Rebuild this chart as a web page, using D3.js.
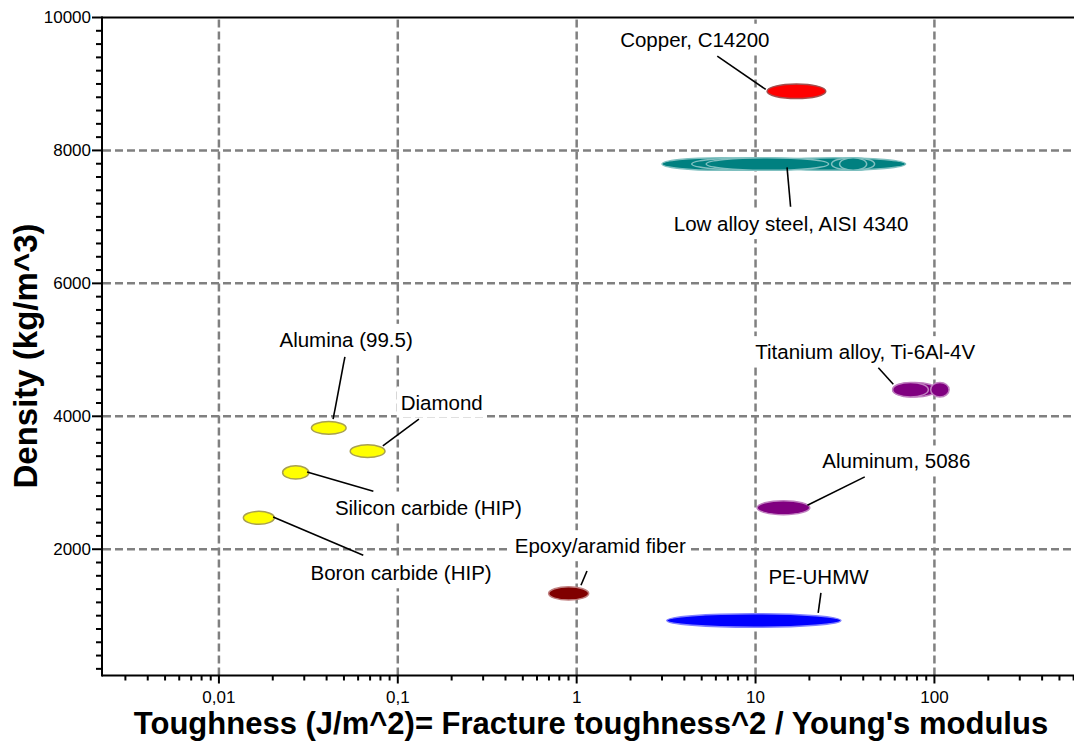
<!DOCTYPE html>
<html>
<head>
<meta charset="utf-8">
<script src="https://cdn.jsdelivr.net/npm/d3@7"></script>
<style>
  body { margin: 0; background: #fff; }
  svg text { font-family: "Liberation Sans", Arial, sans-serif; }
</style>
</head>
<body>
<svg id="chart" width="1074" height="742"></svg>
<script>
// material records (one ellipse each): toughness range (J/m^2) and density range (kg/m^3)
const recGroup  = ["copper", "steel", "steel", "steel", "steel", "steel", "steel",
                   "titanium", "titanium", "titanium", "aluminum",
                   "ceramic", "ceramic", "ceramic", "ceramic", "epoxy", "pe"];
const toughMin  = [11.6, 10.8, 3.0, 4.4, 5.3, 26.6, 29.5,
                   58.4, 58.4, 95.3, 10.2,
                   0.0329, 0.0542, 0.0227, 0.0137, 0.697, 3.19];
const toughMax  = [24.7, 69.0, 13.6, 21.9, 25.6, 46.3, 41.8,
                   103, 92.5, 120.8, 20.1,
                   0.0514, 0.0848, 0.0318, 0.0204, 1.167, 30.0];
const densMin   = [8780, 7700, 7700, 7700, 7700, 7700, 7700,
                   4290, 4290, 4290, 2520,
                   3730, 3380, 3055, 2375, 1235, 825];
const densMax   = [9000, 7890, 7890, 7890, 7890, 7890, 7890,
                   4510, 4510, 4510, 2730,
                   3920, 3570, 3255, 2570, 1435, 1030];

// fill / outline per group
const groups      = ["copper", "steel", "titanium", "aluminum", "ceramic", "epoxy", "pe"];
const fillColors  = ["#ff0000", "#008080", "#800080", "#800080", "#ffff00", "#800000", "#0000ff"];
const edgeColors  = ["#a05050", "#80c0c0", "#c080c0", "#c080c0", "#a8a050", "#c08080", "#8080ff"];

// labels: text, anchor (toughness, density) and leader line ends
const labelText = ["Copper, C14200", "Low alloy steel, AISI 4340", "Titanium alloy, Ti-6Al-4V",
                   "Aluminum, 5086", "Alumina (99.5)", "Diamond", "Silicon carbide (HIP)",
                   "Boron carbide (HIP)", "Epoxy/aramid fiber", "PE-UHMW"];
const labelAt   = [[1.75, 9560], [3.49, 6786], [9.97, 4860], [23.6, 3215], [0.0218, 5045],
                   [0.1038, 4102], [0.0445, 2522], [0.0325, 1533], [0.451, 1940], [11.8, 1484]];
const leadFrom  = [[6.11, 9420], [15.0, 7745], [48.6, 4729], [40.8, 3088], [0.0506, 4894],
                   [0.1312, 3957], [0.0311, 3163], [0.0201, 2486], [1.142, 1673], [23.2, 1342]];
const leadTo    = [[11.4, 8918], [15.7, 7152], [58.9, 4483], [19.5, 2662], [0.0435, 3957],
                   [0.0825, 3555], [0.0730, 2873], [0.0641, 1910], [1.057, 1458], [22.4, 1041]];

// axes
const xMajor      = [0.01, 0.1, 1, 10, 100];
const xMajorText  = ["0,01", "0,1", "1", "10", "100"];
const yMajor      = [2000, 4000, 6000, 8000, 10000];
const xDomain     = [0.00222, 603];
const yDomain     = [100, 10000];

const svg = d3.select("#chart");
const W = 1074, mLeft = 102, mTop = 17.5, mBottom = 675.5;

const x = d3.scaleLog().domain(xDomain).range([mLeft, W]);
const y = d3.scaleLinear().domain(yDomain).range([mBottom, mTop]);
const fill = d3.scaleOrdinal(groups, fillColors);
const edge = d3.scaleOrdinal(groups, edgeColors);

// grid
const grid = svg.append("g")
  .attr("stroke", "#808080").attr("stroke-width", 2.5).attr("stroke-dasharray", "8,4");
grid.selectAll(".gx").data(xMajor).enter().append("line")
  .attr("x1", d => x(d)).attr("x2", d => x(d))
  .attr("y1", mTop + 2).attr("y2", mBottom);
grid.selectAll(".gy").data(yMajor.filter(d => d < 10000)).enter().append("line")
  .attr("y1", d => y(d)).attr("y2", d => y(d))
  .attr("x1", mLeft + 1).attr("x2", W);

// ellipses
const idx = d3.range(recGroup.length);
svg.append("g").selectAll("ellipse").data(idx).enter().append("ellipse")
  .attr("cx", i => (x(toughMin[i]) + x(toughMax[i])) / 2)
  .attr("cy", i => (y(densMin[i]) + y(densMax[i])) / 2)
  .attr("rx", i => (x(toughMax[i]) - x(toughMin[i])) / 2)
  .attr("ry", i => (y(densMin[i]) - y(densMax[i])) / 2)
  .attr("fill", i => fill(recGroup[i]))
  .attr("stroke", i => edge(recGroup[i]))
  .attr("stroke-width", 1.5);

// labels with white boxes and leader lines
const lab = svg.append("g");
labelText.forEach((t, i) => {
  const g = lab.append("g");
  const box = g.append("rect").attr("fill", "#fff");
  const txt = g.append("text")
    .attr("x", x(labelAt[i][0])).attr("y", y(labelAt[i][1]))
    .attr("font-size", 20.5).attr("fill", "#000").text(t);
  const bb = txt.node().getBBox();
  box.attr("x", bb.x - 4).attr("y", bb.y - 4)
    .attr("width", bb.width + 8).attr("height", bb.height + 8);
  lab.append("line")
    .attr("x1", x(leadFrom[i][0])).attr("y1", y(leadFrom[i][1]))
    .attr("x2", x(leadTo[i][0])).attr("y2", y(leadTo[i][1]))
    .attr("stroke", "#000").attr("stroke-width", 1.6);
});

// x axis
const xMinor = [];
[0.001, 0.01, 0.1, 1, 10, 100].forEach(b => {
  for (let k = 2; k <= 9; k++) {
    const v = b * k;
    if (v > xDomain[0] && v < xDomain[1]) xMinor.push(v);
  }
});
const ax = svg.append("g").attr("stroke", "#000").attr("stroke-width", 2);
ax.append("line").attr("x1", mLeft).attr("x2", W).attr("y1", mBottom).attr("y2", mBottom);
ax.append("line").attr("x1", mLeft).attr("x2", W).attr("y1", mTop).attr("y2", mTop);
ax.append("line").attr("x1", mLeft).attr("x2", mLeft).attr("y1", mTop - 1).attr("y2", mBottom + 1);
ax.selectAll(".xm").data(xMinor).enter().append("line")
  .attr("x1", d => x(d)).attr("x2", d => x(d)).attr("y1", mBottom).attr("y2", mBottom + 5);
ax.selectAll(".xM").data(xMajor).enter().append("line")
  .attr("x1", d => x(d)).attr("x2", d => x(d)).attr("y1", mBottom).attr("y2", mBottom + 8);

svg.append("g").selectAll("text").data(xMajor).enter().append("text")
  .attr("x", d => x(d)).attr("y", mBottom + 27)
  .attr("text-anchor", "middle").attr("font-size", 17)
  .text((d, i) => xMajorText[i]);

// y axis
const yMinor = d3.range(200, 10000, 200).filter(d => d % 2000 !== 0);
ax.selectAll(".ym").data(yMinor).enter().append("line")
  .attr("y1", d => y(d)).attr("y2", d => y(d)).attr("x1", mLeft - 6).attr("x2", mLeft);
ax.selectAll(".yM").data(yMajor).enter().append("line")
  .attr("y1", d => y(d)).attr("y2", d => y(d)).attr("x1", mLeft - 10).attr("x2", mLeft);

svg.append("g").selectAll("text").data(yMajor).enter().append("text")
  .attr("x", mLeft - 11).attr("y", d => y(d)).attr("dy", "0.35em")
  .attr("text-anchor", "end").attr("font-size", 17)
  .text(d => d);

// axis titles
svg.append("text")
  .attr("x", 591).attr("y", 734)
  .attr("text-anchor", "middle").attr("font-size", 31).attr("font-weight", "bold")
  .text("Toughness (J/m^2)= Fracture toughness^2 / Young's modulus");

svg.append("text")
  .attr("transform", "translate(37,356) rotate(-90)")
  .attr("text-anchor", "middle").attr("font-size", 33).attr("font-weight", "bold")
  .text("Density (kg/m^3)");
</script>
</body>
</html>
